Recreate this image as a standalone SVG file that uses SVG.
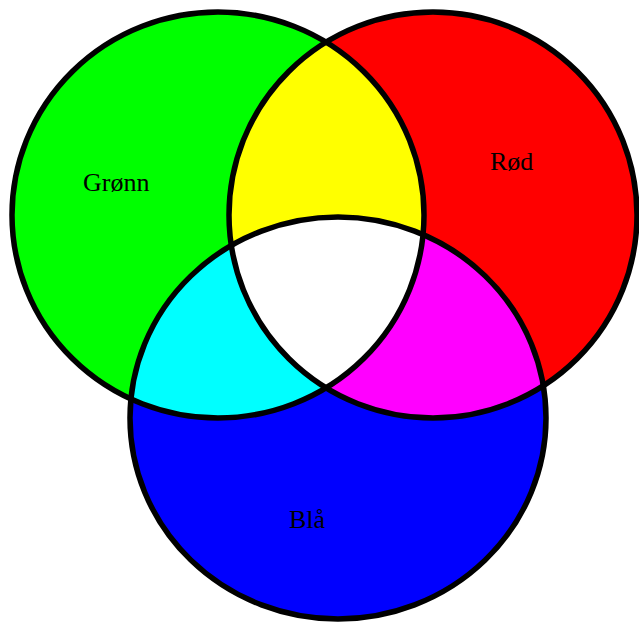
<svg xmlns="http://www.w3.org/2000/svg" width="639" height="622" viewBox="0 0 639 622">
  <style>
    .lbl { font-family: "Liberation Serif", "Times New Roman", serif; font-size: 26px; fill: #000; }
    .edge { fill: none; stroke: #000; stroke-width: 5.5; }
  </style>
  <defs>
    <ellipse id="eg" cx="218" cy="215" rx="206" ry="203"/>
    <ellipse id="er" cx="433" cy="215" rx="204" ry="203"/>
    <ellipse id="eb" cx="338" cy="418" rx="208" ry="201"/>
    <clipPath id="cg"><use href="#eg"/></clipPath>
    <clipPath id="cr"><use href="#er"/></clipPath>
  </defs>
  <rect width="639" height="622" fill="#fff"/>
  <g id="green">
    <use href="#eg" fill="#00ff00"/>
  </g>
  <g id="red">
    <use href="#er" fill="#ff0000"/>
  </g>
  <g id="blue">
    <use href="#eb" fill="#0000ff"/>
  </g>
  <g id="overlaps">
    <use href="#er" fill="#ffff00" clip-path="url(#cg)"/>
    <use href="#eb" fill="#00ffff" clip-path="url(#cg)"/>
    <use href="#eb" fill="#ff00ff" clip-path="url(#cr)"/>
    <g clip-path="url(#cg)">
      <use href="#eb" fill="#ffffff" clip-path="url(#cr)"/>
    </g>
  </g>
  <g id="outlines">
    <use href="#eg" class="edge"/>
    <use href="#er" class="edge"/>
    <use href="#eb" class="edge"/>
  </g>
  <g id="labels">
    <text class="lbl" x="83" y="191">Grønn</text>
    <text class="lbl" x="490" y="170">Rød</text>
    <text class="lbl" x="289" y="528">Blå</text>
  </g>
</svg>
